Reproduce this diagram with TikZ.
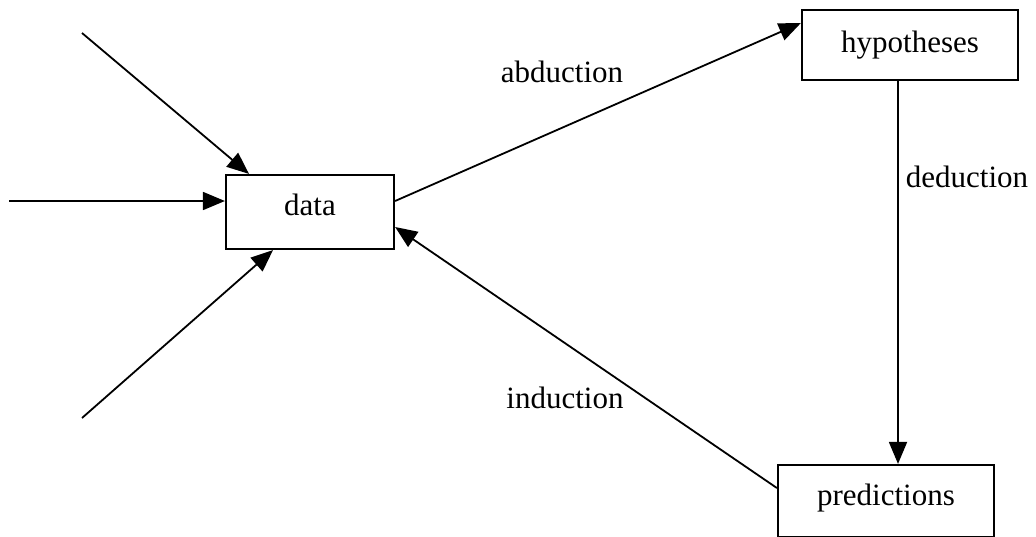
\documentclass[tikz,border=0pt]{standalone}
\usepackage{fontspec}
\setmainfont{Liberation Serif}
\usetikzlibrary{arrows.meta}
\begin{document}
\begin{tikzpicture}[x=0.5pt,y=-0.5pt,
  box/.style={draw=black,line width=1.1pt,inner sep=0pt,fill=white},
  txt/.style={anchor=base,inner sep=0pt,font=\fontsize{15.5}{18}\selectfont},
  link/.style={draw=black,line width=0.9pt,-{Triangle[length=11pt,width=9pt]}},
  plain/.style={draw=black,line width=0.9pt}]
\useasboundingbox (0,0) rectangle (1036,536);
\clip (0,0) rectangle (1036,536);

% boxes
\node[box,minimum width=84pt,minimum height=37pt] (data) at (310,212) {};
\node[box,minimum width=108pt,minimum height=35pt] (hyp) at (910,45) {};
\node[box,minimum width=108pt,minimum height=36pt] (pred) at (886,501) {};

% box texts
\node[txt] (tdata) at (310,215) {data};
\node[txt] (thyp) at (910,52) {hypotheses};
\node[txt] (tpred) at (886,505) {predictions};

% incoming arrows on the left
\coordinate (in0) at (82,33);
\coordinate (in1) at (9,201);
\coordinate (in2) at (82,418);
\draw[link] (in0) -- ([xshift=-30.5pt]data.north);
\draw[link] (in1) -- ([yshift=5.5pt]data.west);
\draw[link] (in2) -- ([xshift=-18.5pt]data.south);

% the reasoning cycle
\draw[link] ([yshift=5.5pt]data.east) -- ([yshift=11pt]hyp.west);
\draw[link] ([xshift=-6pt]hyp.south) -- ([xshift=6pt]pred.north);
\draw[link] ([yshift=6.5pt]pred.west) -- ([yshift=-7.5pt]data.east);

% edge labels
\node[txt] (labd) at (562,82) {abduction};
\node[txt] (lded) at (967,187) {deduction};
\node[txt] (lind) at (565,408) {induction};
\end{tikzpicture}
\end{document}
